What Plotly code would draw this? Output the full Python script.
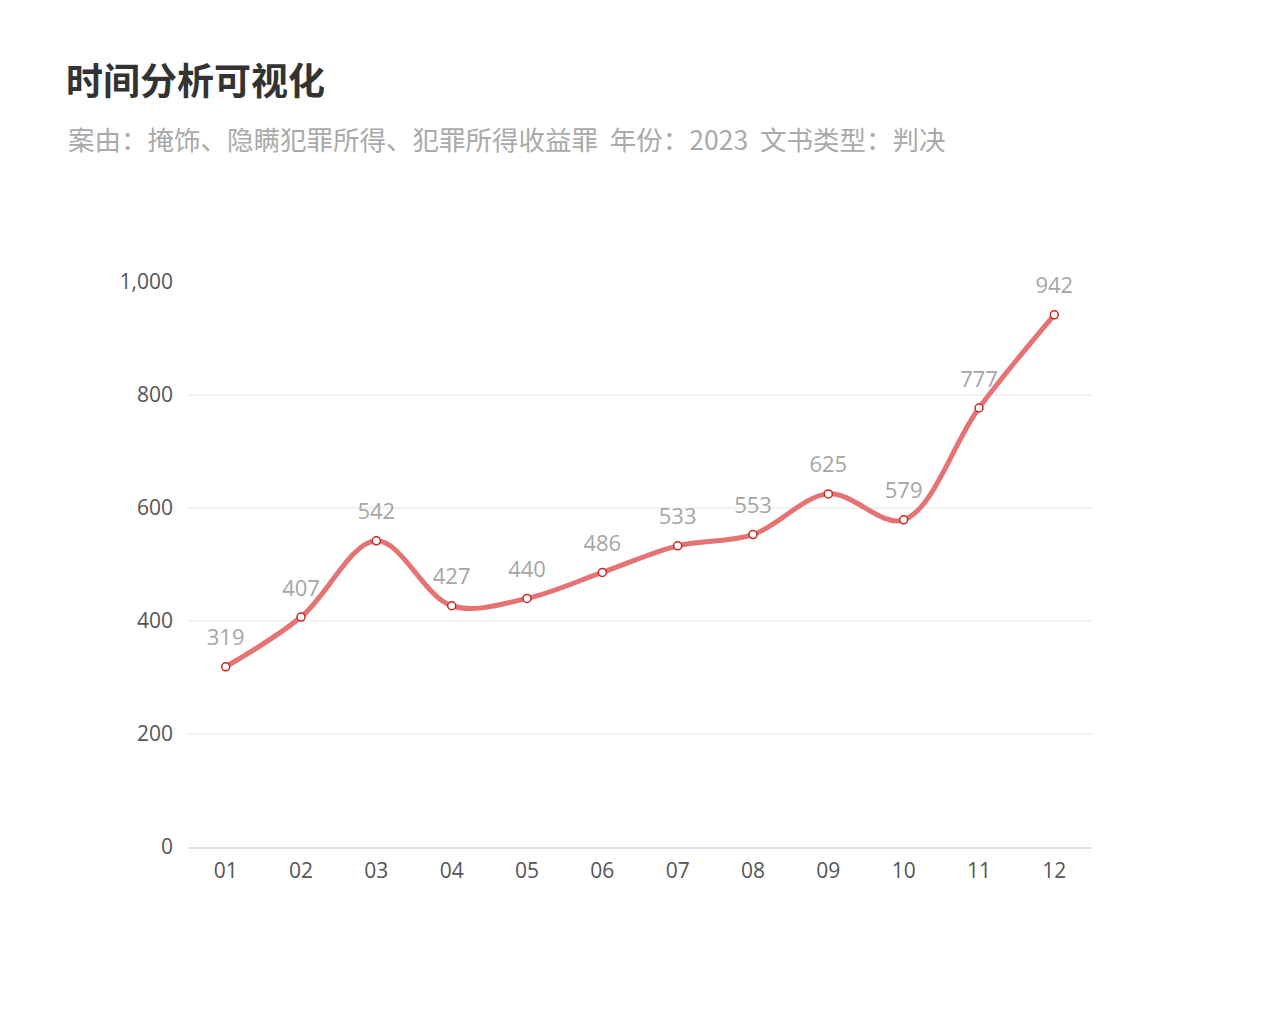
import plotly.graph_objects as go

months = ["01", "02", "03", "04", "05", "06", "07", "08", "09", "10", "11", "12"]
counts = [319, 407, 542, 427, 440, 486, 533, 553, 625, 579, 777, 942]
y_ticks = [0, 200, 400, 600, 800, 1000]

title_text = "时间分析可视化"
subtitle_text = "案由：掩饰、隐瞒犯罪所得、犯罪所得收益罪  年份：2023  文书类型：判决"

CJK = "Noto Sans CJK SC, sans-serif"
NUM = "Open Sans, Noto Sans, sans-serif"

fig = go.Figure()
fig.add_trace(go.Scatter(
    x=months, y=counts,
    mode="lines+markers",
    line=dict(color="#e57373", width=5, shape="spline", smoothing=1.0),
    marker=dict(size=8, color="white", line=dict(color="#c62828", width=1.5)),
    hoverinfo="x+y",
))
# data labels (invisible large markers give the label offset)
fig.add_trace(go.Scatter(
    x=months, y=counts,
    mode="markers+text",
    marker=dict(size=24, opacity=0),
    text=[str(v) for v in counts],
    textposition="top center",
    textfont=dict(size=22, color="#a6a6a6", family=NUM),
    cliponaxis=False,
    hoverinfo="skip",
))

W, H = 1280, 1035
L, R, T, B = 188, 188, 282, 188
pw, ph = W - L - R, H - T - B

fig.update_layout(
    width=W, height=H,
    margin=dict(l=L, r=R, t=T, b=B, pad=0),
    plot_bgcolor="white", paper_bgcolor="white",
    showlegend=False,
    font=dict(family=CJK),
    title=dict(
        text="<b>" + title_text + "</b>",
        x=66 / W, xref="container", xanchor="left",
        y=1 - 82 / H, yref="container", yanchor="middle",
        font=dict(size=37, color="#333333", family=CJK),
    ),
    annotations=[dict(
        text=subtitle_text,
        xref="paper", yref="paper",
        x=(66 - L) / pw, y=(H - B - 139) / ph,
        xanchor="left", yanchor="middle",
        showarrow=False,
        font=dict(size=26.5, color="#aaaaaa", family=CJK),
    )],
    xaxis=dict(
        type="category",
        range=[-0.5, 11.5],
        showgrid=False,
        showline=True, linecolor="#e0e0e0", linewidth=1.5,
        ticks="",
        tickfont=dict(size=21, color="#555555", family=NUM),
        ticklabelstandoff=4,
        zeroline=False,
        fixedrange=True,
    ),
    yaxis=dict(
        range=[0, 1000],
        tickvals=y_ticks,
        tickformat=",",
        showgrid=True, gridcolor="#f2f2f2", gridwidth=1.5,
        showline=False, zeroline=False,
        ticks="",
        tickfont=dict(size=21, color="#555555", family=NUM),
        ticklabelstandoff=14,
        fixedrange=True,
    ),
)

fig.write_html("out.html")
